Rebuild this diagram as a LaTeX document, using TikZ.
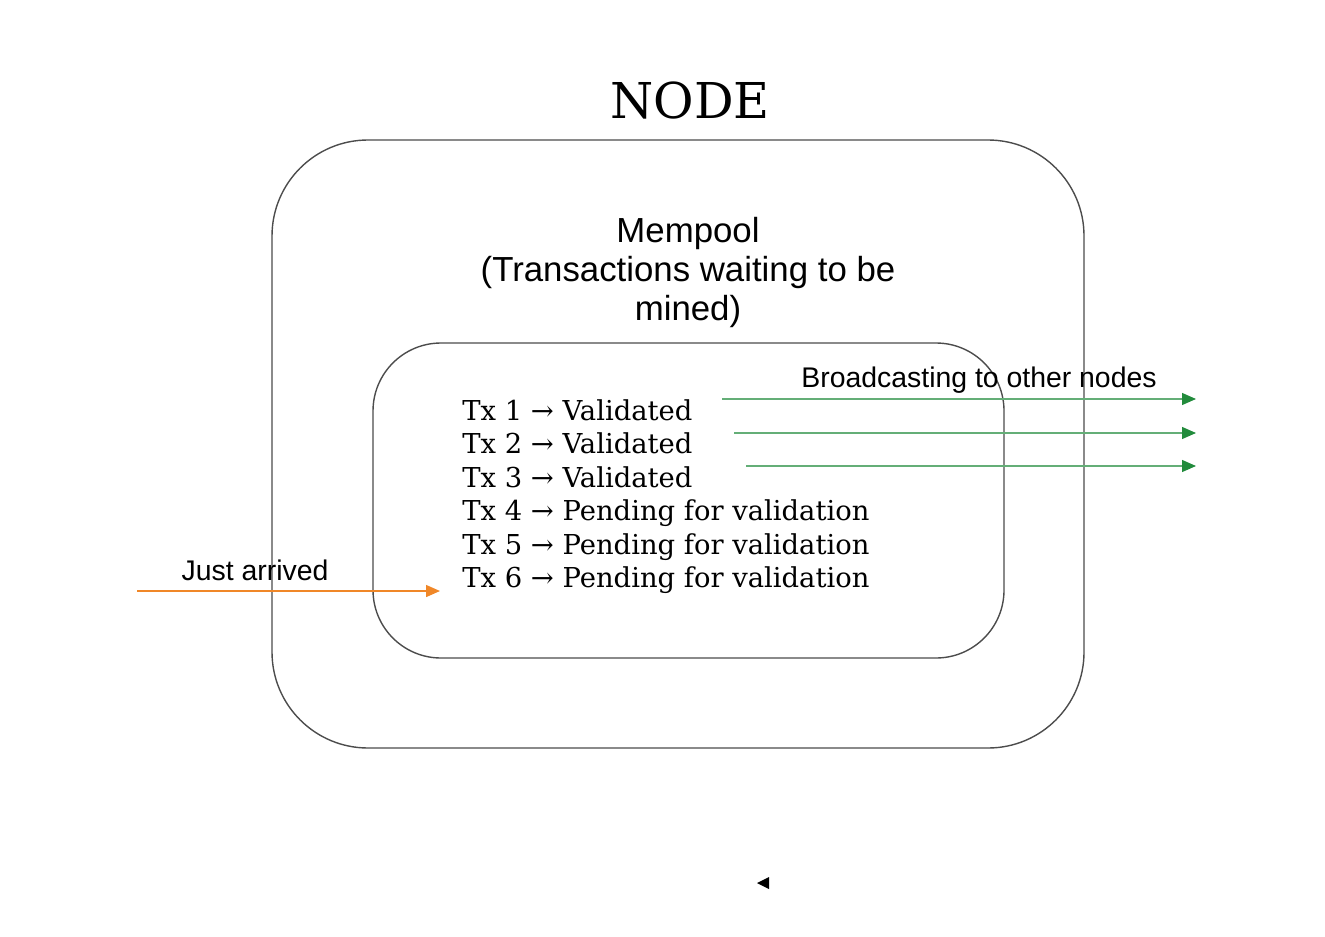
\documentclass[tikz,border=0pt]{standalone}
\usepackage{fontspec}
\usetikzlibrary{arrows.meta}
\newfontfamily\labelfont{Liberation Sans}
\newfontfamily\txfont{DejaVu Serif}
\definecolor{bcastgreen}{RGB}{34,139,60}
\definecolor{arriveorange}{RGB}{240,135,40}
\tikzset{
  box/.style={draw=black!70, line width=0.7pt},
  txline/.style={anchor=base west, inner sep=0pt, font=\txfont\fontsize{13.7}{15}\selectfont},
  lbl/.style={inner sep=0pt, font=\labelfont\fontsize{14.2}{16}\selectfont},
  bcast/.style={bcastgreen!70, line width=0.6pt, -{Triangle[length=7pt,width=6pt,fill=bcastgreen,color=bcastgreen]}},
  arrive/.style={arriveorange, line width=0.7pt, -{Triangle[length=7pt,width=6pt]}}
}
\begin{document}
\begin{tikzpicture}[x=0.5pt, y=-0.5pt]
    \useasboundingbox (0,0) rectangle (1325,936);

    \draw [box, rounded corners=48pt] (272,140) rectangle (1084,748);
    \draw [box, rounded corners=34pt] (373,343) rectangle (1004,658);

    \node (title) at (690,101) [inner sep=0pt, font=\txfont\fontsize{24.7}{28}\selectfont] {NODE};
    \node (mempool) at (688,272) [lbl, align=center, font=\labelfont\fontsize{17.4}{19.5}\selectfont]
        {Mempool\\(Transactions waiting to be\\mined)};

    \node (tx1) at (462,420) [txline] {Tx 1 → Validated};
    \node (tx2) at (462,453.5) [txline] {Tx 2 → Validated};
    \node (tx3) at (462,487) [txline] {Tx 3 → Validated};
    \node (tx4) at (462,520.5) [txline] {Tx 4 → Pending for validation};
    \node (tx5) at (462,554) [txline] {Tx 5 → Pending for validation};
    \node (tx6) at (462,587) [txline] {Tx 6 → Pending for validation};

    \node (bcastlbl) at (979,380) [lbl] {Broadcasting to other nodes};
    \coordinate (out1) at (1196,399);
    \coordinate (out2) at (1196,433);
    \coordinate (out3) at (1196,466);
    \draw [bcast] (722,399) -- (out1);
    \draw [bcast] (734,433) -- (out2);
    \draw [bcast] (746,466) -- (out3);

    \node (arrivelbl) at (255,570) [lbl] {Just arrived};
    \coordinate (src) at (137,591);
    \coordinate (dst) at (440,591);
    \draw [arrive] (src) -- (dst);

    \fill (757,883) -- (769,877) -- (769,889) -- cycle;
\end{tikzpicture}
\end{document}
